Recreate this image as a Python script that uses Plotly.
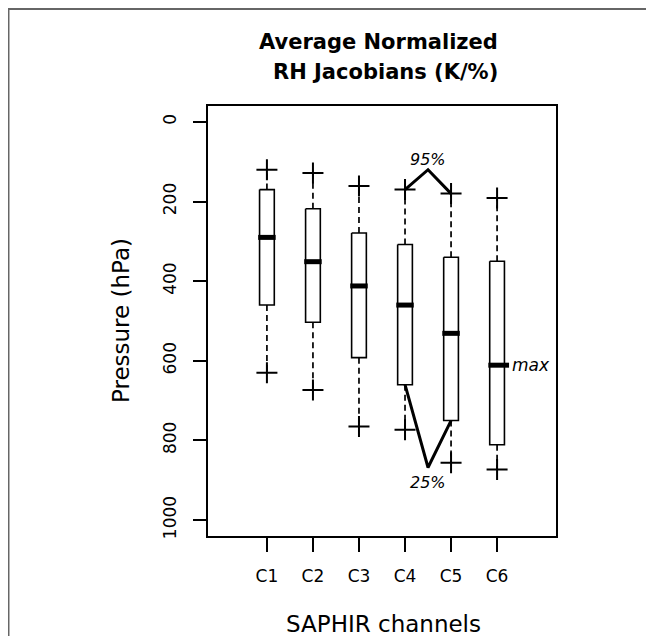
import plotly.graph_objects as go

# ---- data ----
channels = ["C1", "C2", "C3", "C4", "C5", "C6"]
positions = [1, 2, 3, 4, 5, 6]
whisker_top = [120, 128, 161, 170, 180, 191]      # upper "+" (low pressure end)
box_top = [170, 218, 279, 308, 340, 350]
median = [290, 351, 412, 460, 531, 611]
box_bottom = [460, 503, 592, 660, 750, 811]
whisker_bottom = [630, 673, 765, 773, 856, 873]  # lower "+" (high pressure end)
y_ticks = [0, 200, 400, 600, 800, 1000]

# annotation anchors (data units)
label_95 = ("95%", 4.5, 94)
apex_95 = (4.5, 120)
label_25 = ("25%", 4.5, 905)
apex_25 = (4.5, 868)
label_max = ("max", 6.27)

FONT = "DejaVu Sans"
BOX_HW = 0.16
MED_HW = 0.19

fig = go.Figure()

for i, p in enumerate(positions):
    # dashed whiskers
    fig.add_trace(go.Scatter(
        x=[p, p], y=[box_top[i], whisker_top[i]], mode="lines",
        line=dict(color="black", width=1.7, dash="6px,4px"),
        hoverinfo="skip", showlegend=False))
    fig.add_trace(go.Scatter(
        x=[p, p], y=[box_bottom[i], whisker_bottom[i]], mode="lines",
        line=dict(color="black", width=1.7, dash="6px,4px"),
        hoverinfo="skip", showlegend=False))
    # box
    fig.add_trace(go.Scatter(
        x=[p - BOX_HW, p + BOX_HW, p + BOX_HW, p - BOX_HW, p - BOX_HW],
        y=[box_top[i], box_top[i], box_bottom[i], box_bottom[i], box_top[i]],
        mode="lines", fill="toself", fillcolor="white",
        line=dict(color="black", width=1.6),
        hoverinfo="skip", showlegend=False))
    # median
    right = MED_HW if i < len(positions) - 1 else label_max[1] - p - 0.01
    fig.add_trace(go.Scatter(
        x=[p - MED_HW, p + right], y=[median[i], median[i]], mode="lines",
        line=dict(color="black", width=5),
        hoverinfo="skip", showlegend=False))

# "+" whisker ends
fig.add_trace(go.Scatter(
    x=positions + positions, y=whisker_top + whisker_bottom, mode="markers",
    marker=dict(symbol="cross-thin", size=15, color="black",
                line=dict(color="black", width=2)),
    hoverinfo="skip", showlegend=False))

# 95% chevron between C4 and C5 upper ends
fig.add_trace(go.Scatter(
    x=[positions[3], apex_95[0], positions[4]],
    y=[whisker_top[3], apex_95[1], whisker_top[4]],
    mode="lines", line=dict(color="black", width=3),
    hoverinfo="skip", showlegend=False))
# 25% chevron between C4 and C5 box bottoms
fig.add_trace(go.Scatter(
    x=[positions[3], apex_25[0], positions[4]],
    y=[box_bottom[3], apex_25[1], box_bottom[4]],
    mode="lines", line=dict(color="black", width=3),
    hoverinfo="skip", showlegend=False))

annots = [
    dict(x=label_95[1], y=label_95[2], xref="x", yref="y", text=label_95[0],
         showarrow=False, font=dict(family=FONT, size=16, color="black", style="italic")),
    dict(x=label_25[1], y=label_25[2], xref="x", yref="y", text=label_25[0],
         showarrow=False, font=dict(family=FONT, size=16, color="black", style="italic")),
    dict(x=label_max[1], y=median[5], xref="x", yref="y", text=label_max[0],
         xanchor="left", showarrow=False,
         font=dict(family=FONT, size=17, color="black", style="italic")),
    # title
    dict(x=0.5, y=1, xref="paper", yref="paper", yanchor="middle", xshift=-4, yshift=64,
         text="<b>Average Normalized</b>", showarrow=False,
         font=dict(family=FONT, size=21, color="black")),
    dict(x=0.5, y=1, xref="paper", yref="paper", yanchor="middle", xshift=3, yshift=34,
         text="<b>RH Jacobians (K/%)</b>", showarrow=False,
         font=dict(family=FONT, size=21, color="black")),
    # axis titles
    dict(x=0.5, y=0, xref="paper", yref="paper", yanchor="middle", xshift=1, yshift=-88,
         text="SAPHIR channels", showarrow=False,
         font=dict(family=FONT, size=23, color="black")),
    dict(x=0, y=0.5, xref="paper", yref="paper", xanchor="center", xshift=-87,
         textangle=-90, text="Pressure (hPa)", showarrow=False,
         font=dict(family=FONT, size=23, color="black")),
]

fig.update_layout(
    width=646, height=628,
    margin=dict(l=200, r=98, t=98, b=100),
    paper_bgcolor="white", plot_bgcolor="white",
    showlegend=False,
    annotations=annots,
    shapes=[dict(type="rect", xref="paper", yref="paper",
                 x0=-0.5733, x1=1.5, y0=-0.5, y1=1.2256,
                 line=dict(color="#666666", width=2), layer="below")],
    xaxis=dict(range=[-0.28, 7.28], tickvals=positions, ticktext=channels,
               showgrid=False, zeroline=False, showline=True, mirror=True,
               linecolor="black", linewidth=2, ticks="outside", ticklen=14,
               tickwidth=1.5, tickcolor="black", ticklabelstandoff=10,
               tickfont=dict(family=FONT, size=17, color="black")),
    yaxis=dict(range=[1040, -40], tickvals=y_ticks,
               showgrid=False, zeroline=False, showline=True, mirror=True,
               linecolor="black", linewidth=2, ticks="outside", ticklen=13,
               tickwidth=1.5, tickcolor="black", tickangle=-90, ticklabelstandoff=10,
               tickfont=dict(family=FONT, size=17, color="black")),
)

fig.write_html("out.html")
